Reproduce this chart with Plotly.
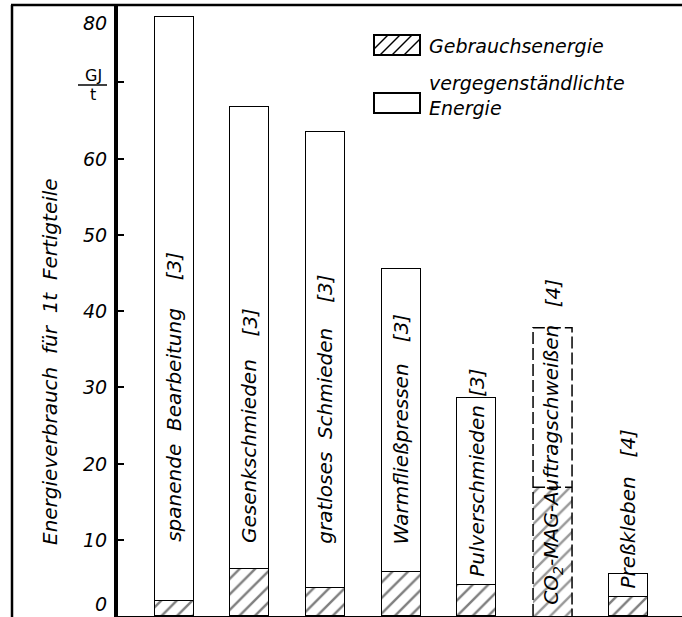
import plotly.graph_objects as go

# ---- data ----
processes = ["spanende  Bearbeitung", "Gesenkschmieden", "gratloses  Schmieden",
             "Warmfließpressen", "Pulverschmieden", "CO<sub>2</sub>-MAG-Auftragschweißen", "Preßkleben"]
refs = ["[3]", "[3]", "[3]", "[3]", "[3]", "[4]", "[4]"]
total_energy = [78.6, 66.7, 63.5, 45.5, 28.6, 37.8, 5.5]
gebrauchsenergie = [2.0, 6.2, 3.7, 5.8, 4.1, 16.9, 2.5]
vergegenstaendlicht = [t - g for t, g in zip(total_energy, gebrauchsenergie)]
y_tick_values = [10, 20, 30, 40, 50, 60, 70]
y_label_values = [0, 10, 20, 30, 40, 50, 60, 80]

# label placement (data units along the bar) -- layout, not data
name_bottom = [9.6, 9.4, 9.4, 9.2, 5.0, 1.3, 3.5]
ref_bottom = [43.9, 36.5, 41.0, 35.8, 28.6, 40.3, 20.7]

n = len(processes)
xs = list(range(n))
BAR_W = 0.515
FONT = "DejaVu Sans"

L, T, W, H = 118, 6, 564, 610


def px_x(px):
    return (px - L) / W


def px_y(py):
    return (T + H - py) / H


line_w = [1.5] * n
line_w[5] = 0  # dashed outline drawn separately

fig = go.Figure()
fig.add_trace(go.Bar(
    x=xs, y=gebrauchsenergie, width=BAR_W, name="Gebrauchsenergie",
    marker=dict(color="white", line=dict(color="black", width=line_w),
                pattern=dict(shape="/", fgcolor=["black"] * 5 + ["#333"] + ["black"],
                             bgcolor="white", size=11, solidity=0.22)),
    showlegend=False))
fig.add_trace(go.Bar(
    x=xs, y=vergegenstaendlicht, width=BAR_W, name="vergegenständlichte Energie",
    marker=dict(color="white", line=dict(color="black", width=line_w)),
    showlegend=False))

# dashed outline for the CO2-MAG bar, derived from the data
i = 5
x0, x1 = xs[i] - BAR_W / 2, xs[i] + BAR_W / 2
fig.add_trace(go.Scatter(
    x=[x0, x0, x1, x1, None, x0, x1],
    y=[0, total_energy[i], total_energy[i], 0, None, gebrauchsenergie[i], gebrauchsenergie[i]],
    mode="lines", line=dict(color="black", width=1.5, dash="12px,4px"),
    hoverinfo="skip", showlegend=False))

txtfont = dict(family=FONT, size=20, color="black", style="italic")
ann = []
for k in range(n):
    ann.append(dict(x=xs[k], y=name_bottom[k], xref="x", yref="y", text=processes[k],
                    textangle=-90, showarrow=False, xanchor="center", yanchor="bottom",
                    font=txtfont, borderpad=0))
    ann.append(dict(x=xs[k], y=ref_bottom[k], xref="x", yref="y", text=refs[k],
                    textangle=-90, showarrow=False, xanchor="center", yanchor="bottom",
                    font=txtfont, borderpad=0))

# y tick labels
lab_pos = {0: 1.6, 80: 77.8}
for v in y_label_values:
    ann.append(dict(x=px_x(109), y=lab_pos.get(v, v), xref="paper", yref="y", text=str(v),
                    showarrow=False, xanchor="right", yanchor="middle",
                    font=dict(family=FONT, size=19, color="black", style="italic")))

# unit GJ / t
ann.append(dict(x=px_x(93), y=px_y(75), xref="paper", yref="paper", text="GJ",
                showarrow=False, xanchor="center", yanchor="middle",
                font=dict(family=FONT, size=16, color="black")))
ann.append(dict(x=px_x(93), y=px_y(95), xref="paper", yref="paper", text="t",
                showarrow=False, xanchor="center", yanchor="middle",
                font=dict(family=FONT, size=16, color="black")))

# axis title
ann.append(dict(x=px_x(50), y=px_y(362), xref="paper", yref="paper",
                text="Energieverbrauch  für  1t  Fertigteile", textangle=-90,
                showarrow=False, xanchor="center", yanchor="middle",
                font=dict(family=FONT, size=20, color="black", style="italic")))

# legend text
legfont = dict(family=FONT, size=19, color="black", style="italic")
ann.append(dict(x=px_x(427), y=px_y(46), xref="paper", yref="paper", text="Gebrauchsenergie",
                showarrow=False, xanchor="left", yanchor="middle", font=legfont))
ann.append(dict(x=px_x(427), y=px_y(83), xref="paper", yref="paper", text="vergegenständlichte",
                showarrow=False, xanchor="left", yanchor="middle", font=legfont))
ann.append(dict(x=px_x(427), y=px_y(108), xref="paper", yref="paper", text="Energie",
                showarrow=False, xanchor="left", yanchor="middle", font=legfont))

shapes = []
# GJ/t fraction bar
shapes.append(dict(type="line", xref="paper", yref="paper", x0=px_x(78), x1=px_x(107),
                   y0=px_y(85), y1=px_y(85), line=dict(color="black", width=1.5)))
# frame lines
shapes.append(dict(type="line", xref="paper", yref="paper", x0=px_x(12), x1=px_x(12),
                   y0=px_y(5), y1=px_y(617), line=dict(color="black", width=2.5)))
shapes.append(dict(type="line", xref="paper", yref="paper", x0=px_x(11), x1=px_x(682),
                   y0=px_y(5), y1=px_y(5), line=dict(color="black", width=2.5)))
# legend boxes
bx0, bx1 = 374, 420
shapes.append(dict(type="rect", xref="paper", yref="paper", x0=px_x(bx0), x1=px_x(bx1),
                   y0=px_y(55), y1=px_y(35), line=dict(color="black", width=2), fillcolor="white"))
for (ax, ay, bxp, byp) in [(374, 49, 388, 35), (380, 55, 400, 35), (392, 55, 412, 35), (404, 55, 420, 39)]:
    shapes.append(dict(type="line", xref="paper", yref="paper", x0=px_x(ax), x1=px_x(bxp),
                       y0=px_y(ay), y1=px_y(byp), line=dict(color="black", width=1.4)))
shapes.append(dict(type="rect", xref="paper", yref="paper", x0=px_x(bx0), x1=px_x(bx1),
                   y0=px_y(113), y1=px_y(93), line=dict(color="black", width=2), fillcolor="white"))

fig.update_layout(
    width=682, height=617,
    margin=dict(l=L, r=682 - L - W, t=T, b=617 - T - H, pad=0),
    paper_bgcolor="white", plot_bgcolor="white",
    barmode="stack", bargap=0,
    xaxis=dict(range=[-0.74, 6.71], showticklabels=False, ticks="", showgrid=False,
               zeroline=False, showline=True, linecolor="black", linewidth=2, fixedrange=True),
    yaxis=dict(range=[0, 80], tickvals=y_tick_values, showticklabels=False, ticks="inside",
               ticklen=6, tickwidth=2, tickcolor="black", showgrid=False, zeroline=False,
               showline=True, linecolor="black", linewidth=3.5, fixedrange=True),
    annotations=ann, shapes=shapes, showlegend=False,
)

fig.write_html("out.html", config={"displayModeBar": False},
               post_script="document.body.style.margin='0';")
